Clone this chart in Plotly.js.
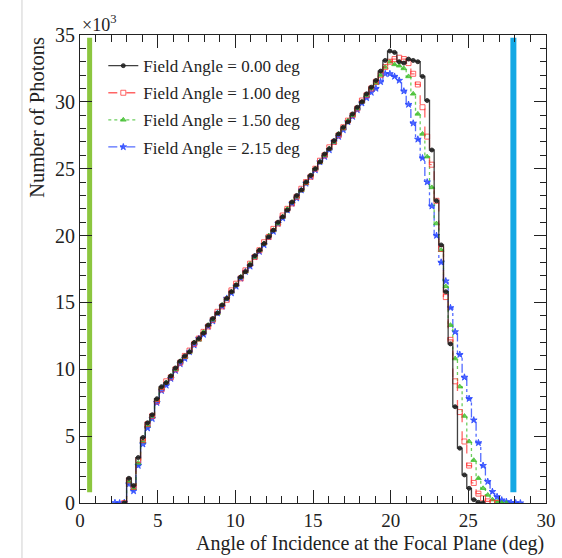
<!DOCTYPE html>
<html>
<head>
<meta charset="utf-8">
<script src="https://cdn.plot.ly/plotly-3.0.1.min.js"></script>
<style>html,body{margin:0;padding:0;background:#fff;}#chart{width:562px;height:558px;}</style>
</head>
<body>
<div id="chart"></div>
<script>
// Bin centres (deg), bin width 0.3 deg
const binCenters = [2.25, 2.55, 2.85, 3.15, 3.45, 3.75, 4.05, 4.35, 4.65, 4.95, 5.25, 5.55, 5.85, 6.15, 6.45, 6.75, 7.05, 7.35, 7.65, 7.95,
  8.25, 8.55, 8.85, 9.15, 9.45, 9.75, 10.05, 10.35, 10.65, 10.95, 11.25, 11.55, 11.85, 12.15, 12.45, 12.75, 13.05, 13.35, 13.65, 13.95,
  14.25, 14.55, 14.85, 15.15, 15.45, 15.75, 16.05, 16.35, 16.65, 16.95, 17.25, 17.55, 17.85, 18.15, 18.45, 18.75, 19.05, 19.35, 19.65, 19.95,
  20.25, 20.55, 20.85, 21.15, 21.45, 21.75, 22.05, 22.35, 22.65, 22.95, 23.25, 23.55, 23.85, 24.15, 24.45, 24.75, 25.05, 25.35, 25.65, 25.95,
  26.25, 26.55, 26.85, 27.15, 27.45, 27.75, 28.05, 28.35];

// Number of photons (x10^3)
const field000 = [null, null, 0, 1.85, 1.3, 3.4, 4.9, 6.0, 6.6, 7.8, 8.7, 9.0, 9.5, 10.1, 10.6, 11.0, 11.3, 12.0, 12.3, 12.7,
  13.3, 13.8, 14.2, 14.8, 15.3, 15.8, 16.3, 16.9, 17.3, 17.8, 18.5, 18.9, 19.4, 19.9, 20.4, 21.0, 21.4, 21.9, 22.5, 23.0,
  23.4, 24.0, 24.5, 25.0, 25.5, 26.1, 26.5, 27.1, 27.6, 28.1, 28.5, 29.1, 29.6, 30.0, 30.6, 31.1, 31.6, 32.3, 33.1, 33.8,
  33.7, 33.0, 32.9, 33.2, 33.1, 33.0, 31.9, 30.1, 26.4, 22.6, 19.3, 15.8, 11.9, 7.2, 4.1, 2.1, 1.1, 0.25, 0.05, 0,
  null, null, null, null, null, null, null, null];
const field100 = [null, null, 0, 1.7, 1.2, 3.2, 4.7, 5.9, 6.5, 7.6, 8.5, 9.1, 9.4, 10.0, 10.5, 11.0, 11.4, 11.9, 12.3, 12.8,
  13.2, 13.7, 14.3, 14.7, 15.2, 15.9, 16.4, 16.8, 17.4, 17.9, 18.4, 18.9, 19.5, 19.9, 20.5, 20.9, 21.5, 22.0, 22.4, 22.9,
  23.5, 24.0, 24.4, 25.0, 25.6, 26.0, 26.6, 27.0, 27.5, 28.1, 28.6, 29.0, 29.5, 30.1, 30.5, 31.0, 31.5, 32.0, 32.6, 33.0,
  33.2, 33.3, 33.2, 32.9, 32.1, 31.3, 29.6, 27.4, 25.3, 22.6, 19.0, 15.4, 12.2, 9.1, 6.8, 4.6, 2.8, 1.5, 0.7, 0.35,
  0.12, 0.03, 0, null, null, null, null, null];
const field150 = [null, null, 0, 1.6, 1.1, 3.0, 4.6, 5.8, 6.5, 7.7, 8.6, 9.0, 9.5, 10.0, 10.6, 10.9, 11.3, 12.0, 12.2, 12.8,
  13.3, 13.7, 14.2, 14.8, 15.3, 15.8, 16.3, 16.9, 17.3, 17.9, 18.4, 18.9, 19.4, 20.0, 20.4, 20.9, 21.4, 22.0, 22.5, 22.9,
  23.4, 23.9, 24.5, 25.0, 25.5, 26.0, 26.5, 27.0, 27.6, 28.0, 28.6, 29.0, 29.5, 30.0, 30.5, 31.0, 31.4, 32.0, 32.6, 33.0,
  32.8, 32.7, 32.5, 31.9, 30.6, 29.1, 27.6, 25.9, 23.6, 20.9, 18.9, 16.2, 13.3, 10.8, 8.7, 6.5, 4.6, 3.2, 1.85, 1.1,
  0.6, 0.25, 0.1, 0.02, 0, null, null, null];
const field215 = [0.02, 0, 0.03, 1.4, 0.9, 2.8, 4.4, 5.6, 6.3, 7.5, 8.4, 8.8, 9.3, 9.9, 10.4, 10.8, 11.3, 11.8, 12.3, 12.6,
  13.2, 13.6, 14.2, 14.7, 15.3, 15.7, 16.2, 16.8, 17.3, 17.7, 18.4, 18.8, 19.3, 19.9, 20.3, 20.9, 21.3, 21.9, 22.4, 22.8,
  23.4, 23.9, 24.4, 24.9, 25.5, 25.9, 26.4, 27.0, 27.4, 27.9, 28.5, 28.9, 29.4, 29.9, 30.3, 30.7, 31.0, 31.5, 32.1, 32.1,
  31.9, 31.6, 30.8, 29.8, 28.4, 27.2, 25.8, 24.0, 22.2, 20.0, 18.0, 16.6, 14.6, 12.8, 11.1, 9.4, 7.8, 6.2, 4.5, 2.8,
  1.6, 0.85, 0.47, 0.22, 0.1, 0.03, 0.01, 0];

const seriesNames = ["Field Angle = 0.00 deg", "Field Angle = 1.00 deg", "Field Angle = 1.50 deg", "Field Angle = 2.15 deg"];

// Vertical reference bands (deg) and their vertical extent (x10^3)
const greenBandX = [0.62, 0.62];
const blueBandX = [27.9, 27.9];
const bandY = [0.8, 34.8];

const serif = "Liberation Serif";

function hist(y, name, color, dash, symbol, msize, rank) {
  return {
    x: binCenters, y: y, name: name, type: "scatter", mode: "lines+markers",
    line: {shape: "hvh", color: color, width: 1.3, dash: dash},
    marker: {symbol: symbol, size: msize, color: color, line: {color: color, width: 1}},
    connectgaps: false, legendgroup: "g" + rank, legendrank: rank, cliponaxis: true
  };
}

const traces = [
  {x: greenBandX, y: bandY, mode: "lines", line: {color: "#8cc63f", width: 5}, showlegend: false, hoverinfo: "skip"},
  {x: blueBandX, y: bandY, mode: "lines", line: {color: "#14a8e4", width: 6}, showlegend: false, hoverinfo: "skip"},
  hist(field215, seriesNames[3], "rgba(40,70,255,0.8)", "dashdot", "star", 5, 4),
  hist(field150, seriesNames[2], "rgba(60,190,40,0.75)", "dot", "triangle-up", 5, 3),
  hist(field100, seriesNames[1], "rgba(255,50,50,0.75)", "dash", "square-open", 5, 2),
  hist(field000, seriesNames[0], "rgba(30,30,30,0.85)", "solid", "circle", 4, 1)
];

const layout = {
  width: 562, height: 558,
  margin: {l: 80, r: 16, t: 35, b: 55},
  paper_bgcolor: "#fff", plot_bgcolor: "#fff",
  showlegend: true,
  legend: {
    x: 0.05, y: 0.972, xanchor: "left", yanchor: "top",
    bgcolor: "rgba(0,0,0,0)", borderwidth: 0,
    font: {family: serif, size: 17, color: "#222"},
    traceorder: "grouped", tracegroupgap: 2
  },
  xaxis: {
    range: [0, 30], dtick: 5, tick0: 0, ticks: "inside", ticklen: 13, tickcolor: "#222",
    minor: {dtick: 1, ticks: "inside", ticklen: 7, tickcolor: "#222"},
    showline: true, linecolor: "#222", linewidth: 1, mirror: "allticks",
    showgrid: false, zeroline: false,
    tickfont: {family: serif, size: 19, color: "#222"}
  },
  yaxis: {
    range: [0, 35], dtick: 5, tick0: 0, ticks: "inside", ticklen: 12, tickcolor: "#222",
    minor: {dtick: 1, ticks: "inside", ticklen: 6, tickcolor: "#222"},
    showline: true, linecolor: "#222", linewidth: 1, mirror: "allticks",
    showgrid: false, zeroline: false,
    tickfont: {family: serif, size: 20, color: "#222"}
  },
  annotations: [
    {xref: "paper", yref: "paper", x: 0, y: 1, xanchor: "left", yanchor: "bottom", yshift: -2, showarrow: false,
     text: "×10<sup>3</sup>", font: {family: serif, size: 18, color: "#222"}},
    {xref: "paper", yref: "paper", x: 1, y: -0.087, xanchor: "right", yanchor: "middle", showarrow: false,
     text: "Angle of Incidence at the Focal Plane (deg)", font: {family: serif, size: 20, color: "#222"}},
    {xref: "paper", yref: "paper", x: -0.094, y: 1, xanchor: "center", yanchor: "top", textangle: -90, showarrow: false,
     text: "Number of Photons", font: {family: serif, size: 20.5, color: "#222"}}
  ],
  shapes: [
    {type: "line", xref: "paper", yref: "paper", x0: -0.1245, x1: -0.1245, y0: -0.118, y1: 1.075,
     line: {color: "#d0d0d0", width: 1}}
  ]
};

Plotly.newPlot("chart", traces, layout, {staticPlot: true, displayModeBar: false});
</script>
</body>
</html>
